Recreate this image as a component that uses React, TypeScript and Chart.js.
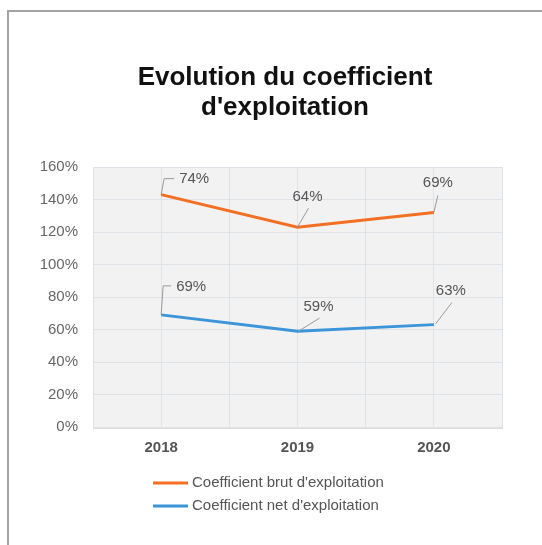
import React, { useEffect, useRef } from 'react';
import { Chart, registerables } from 'chart.js';

Chart.register(...registerables);

const TITLE = ['Evolution du coefficient', "d'exploitation"];
const YEARS = ['2018', '2019', '2020'];
const NET = [69, 59, 63];
const BRUT = [74, 64, 69];
const NET_LABEL = "Coefficient net d'exploitation";
const BRUT_LABEL = "Coefficient brut d'exploitation";
const Y_MIN = 0;
const Y_MAX = 160;
const Y_STEP = 20;

const ORANGE = '#f26f24';
const BLUE = '#3b95d8';
const FONT = "'Liberation Sans', Arial, Helvetica, sans-serif";

// label placement (style): text centre offset and leader polyline, relative to the point
const LABEL_STYLE: Record<string, { text: [number, number]; leader: [number, number][] }[]> = {
  brut: [
    { text: [33, -16], leader: [[0, 0], [3, -16], [13, -16]] },
    { text: [10, -30], leader: [[0, 0], [11, -19]] },
    { text: [4, -30], leader: [[0, 0], [4, -17]] },
  ],
  net: [
    { text: [30, -28], leader: [[0, 0], [2, -29], [10, -29]] },
    { text: [21, -24], leader: [[1, 0], [22, -13]] },
    { text: [17, -34], leader: [[2, -1], [18, -22]] },
  ],
};

const bgPlugin = {
  id: 'plotBg',
  beforeDraw(chart: any) {
    const { ctx, chartArea: a } = chart;
    ctx.save();
    ctx.fillStyle = '#ffffff';
    ctx.fillRect(0, 0, chart.width, chart.height);
    ctx.fillStyle = '#dcdcdc';
    ctx.fillRect(a.left, a.top + 1, a.right - a.left + 1, a.bottom - a.top + 1);
    ctx.fillStyle = '#f2f2f2';
    ctx.fillRect(a.left, a.top, a.right - a.left, a.bottom - a.top);
    ctx.restore();
  },
};

const titlePlugin = {
  id: 'customTitle',
  afterDraw(chart: any) {
    const { ctx } = chart;
    ctx.save();
    ctx.fillStyle = '#111111';
    ctx.font = `bold 26px ${FONT}`;
    ctx.textAlign = 'center';
    ctx.textBaseline = 'middle';
    TITLE.forEach((line, i) => {
      ctx.fillText(line, 276, 66 + i * 30);
    });
    ctx.restore();
  },
};

const labelPlugin = {
  id: 'pointLabels',
  afterDatasetsDraw(chart: any) {
    const { ctx } = chart;
    ctx.save();
    chart.data.datasets.forEach((ds: any, di: number) => {
      const meta = chart.getDatasetMeta(di);
      const styles = LABEL_STYLE[ds.key];
      const values: number[] = ds.rawValues;
      meta.data.forEach((pt: any, i: number) => {
        const st = styles[i];
        ctx.strokeStyle = '#9a9a9a';
        ctx.lineWidth = 1;
        ctx.beginPath();
        st.leader.forEach(([dx, dy], k) => {
          if (k === 0) ctx.moveTo(pt.x + dx, pt.y + dy);
          else ctx.lineTo(pt.x + dx, pt.y + dy);
        });
        ctx.stroke();
        ctx.fillStyle = '#555555';
        ctx.font = `15px ${FONT}`;
        ctx.textAlign = 'center';
        ctx.textBaseline = 'middle';
        ctx.fillText(values[i] + '%', pt.x + st.text[0], pt.y + st.text[1]);
      });
    });
    ctx.restore();
  },
};

const legendPlugin = {
  id: 'customLegend',
  afterDraw(chart: any) {
    const { ctx, chartArea: a } = chart;
    const order = ['brut', 'net'];
    ctx.save();
    order.forEach((key, r) => {
      const ds = chart.data.datasets.find((d: any) => d.key === key);
      const y = a.bottom + 56 + r * 23;
      const x0 = a.left + 60;
      ctx.strokeStyle = ds.borderColor;
      ctx.lineWidth = 3;
      ctx.beginPath();
      ctx.moveTo(x0, y);
      ctx.lineTo(x0 + 35, y);
      ctx.stroke();
      ctx.fillStyle = '#555555';
      ctx.font = `15px ${FONT}`;
      ctx.textAlign = 'left';
      ctx.textBaseline = 'middle';
      ctx.fillText(ds.label, x0 + 39, y);
    });
    ctx.restore();
  },
};

export default function App() {
  const ref = useRef<HTMLCanvasElement>(null);
  useEffect(() => {
    if (!ref.current) return;
    const chart = new Chart(ref.current, {
      type: 'line',
      data: {
        datasets: [
          {
            key: 'net',
            label: NET_LABEL,
            rawValues: NET,
            data: NET.map((v, i) => ({ x: i, y: v })),
            borderColor: BLUE,
            backgroundColor: BLUE,
            borderWidth: 3,
            pointRadius: 0,
            fill: false,
            tension: 0,
          } as any,
          {
            key: 'brut',
            label: BRUT_LABEL,
            rawValues: BRUT,
            data: BRUT.map((v, i) => ({ x: i, y: v })),
            borderColor: ORANGE,
            backgroundColor: ORANGE,
            borderWidth: 3,
            pointRadius: 0,
            fill: false,
            tension: 0,
          } as any,
        ],
      },
      options: {
        animation: false,
        responsive: false,
        layout: { padding: { left: 0, right: 40, top: 155, bottom: 76 } },
        plugins: {
          legend: { display: false },
          tooltip: { enabled: false },
          title: { display: false },
        },
        scales: {
          x: {
            type: 'linear',
            min: -0.5,
            max: YEARS.length - 0.5,
            border: { display: false },
            grid: { color: '#dfe2e6', drawTicks: false },
            ticks: {
              stepSize: 0.5,
              autoSkip: false,
              maxRotation: 0,
              padding: 12,
              color: '#555555',
              font: { family: FONT, size: 15, weight: 'bold' },
              callback: (v: any) => (Number.isInteger(v) ? YEARS[v] : ''),
            },
          },
          y: {
            stacked: true,
            min: Y_MIN,
            max: Y_MAX,
            border: { display: false },
            grid: { color: '#dfe2e6', drawTicks: false },
            afterFit: (s: any) => {
              s.width = 84;
            },
            ticks: {
              stepSize: Y_STEP,
              padding: 15,
              color: '#666666',
              font: { family: FONT, size: 15 },
              callback: (v: any) => v + '%',
            },
          },
        },
      },
      plugins: [bgPlugin, labelPlugin, legendPlugin, titlePlugin],
    } as any);
    return () => chart.destroy();
  }, []);

  return (
    <div
      style={{
        position: 'fixed',
        left: 7,
        top: 10,
        width: 535,
        height: 535,
        boxSizing: 'border-box',
        borderLeft: '2px solid #a3a3a3',
        borderTop: '2px solid #a3a3a3',
        background: '#fff',
      }}
    >
      <canvas ref={ref} width={533} height={533} style={{ display: 'block', width: 533, height: 533 }} />
    </div>
  );
}
